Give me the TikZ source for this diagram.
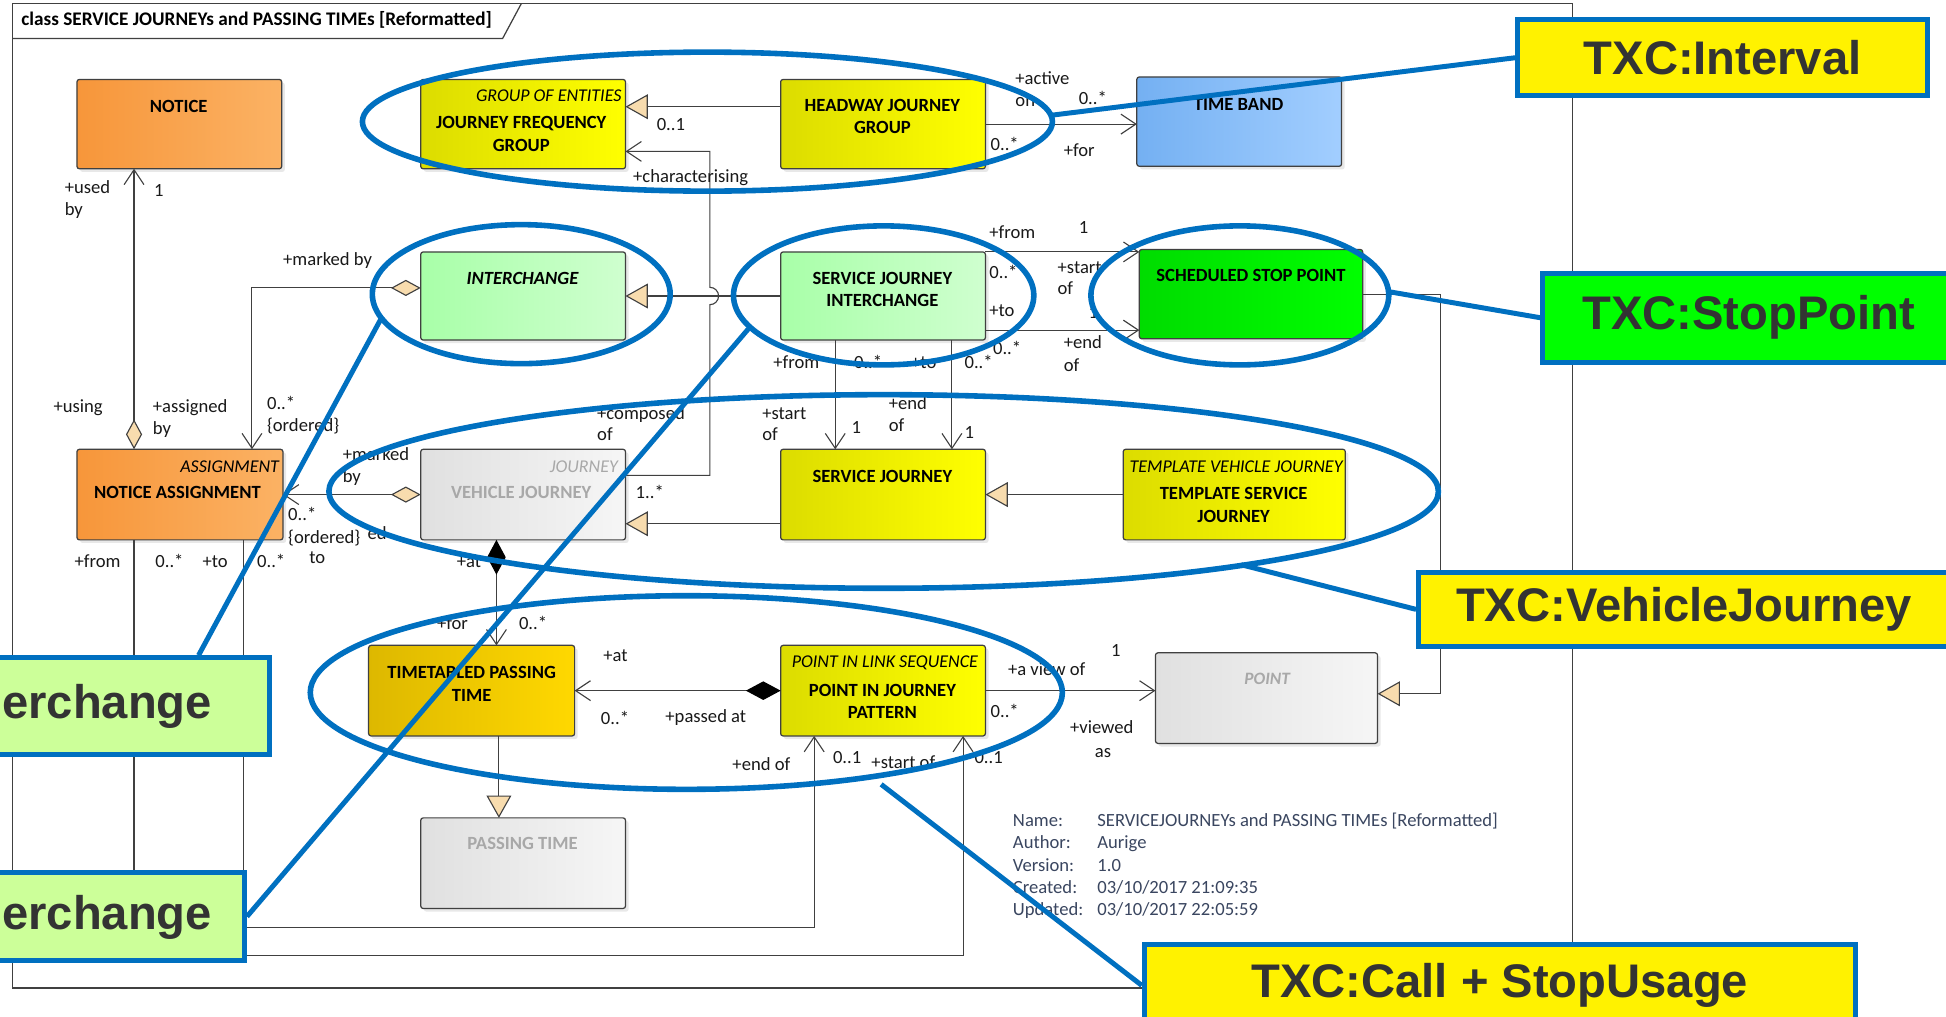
\documentclass[tikz,border=0pt]{standalone}
\usepackage{fontspec}
\setmainfont{Carlito}
\newfontfamily\calloutfont{Liberation Sans}
\usetikzlibrary{arrows.meta,shadows}

\definecolor{umlline}{HTML}{404040}
\definecolor{genfill}{HTML}{F8DCAE}
\definecolor{hlblue}{HTML}{0070C0}
\definecolor{greytxt}{HTML}{A8A8A8}
\definecolor{infotxt}{HTML}{3A4660}
\definecolor{calltxt}{HTML}{333333}
\definecolor{orangeL}{HTML}{F7963A}
\definecolor{orangeR}{HTML}{FBB264}
\definecolor{yellowL}{HTML}{DCDC00}
\definecolor{yellowR}{HTML}{FFFF00}
\definecolor{goldL}{HTML}{DDB800}
\definecolor{goldR}{HTML}{FFD800}
\definecolor{blueL}{HTML}{74B0F2}
\definecolor{blueR}{HTML}{A2CEFF}
\definecolor{mintL}{HTML}{A8FFA8}
\definecolor{mintR}{HTML}{CFFFCF}
\definecolor{greenL}{HTML}{00DC00}
\definecolor{greenR}{HTML}{00FF00}
\definecolor{greyL}{HTML}{E0E0E0}
\definecolor{greyR}{HTML}{F6F6F6}
\definecolor{calloutgreen}{HTML}{CCFF99}

\begin{document}
\begin{tikzpicture}[x=1pt,y=-1pt,
  umlbox/.style={draw=umlline, line width=1pt, rounded corners=2pt, anchor=north west,
    inner sep=0pt, outer sep=0pt,
    drop shadow={shadow xshift=2.5pt, shadow yshift=-2.5pt, opacity=0.18}},
  orangebox/.style={umlbox, left color=orangeL, right color=orangeR},
  yellowbox/.style={umlbox, left color=yellowL, right color=yellowR},
  goldbox/.style={umlbox, left color=goldL, right color=goldR},
  bluebox/.style={umlbox, left color=blueL, right color=blueR},
  mintbox/.style={umlbox, left color=mintL, right color=mintR},
  greenbox/.style={umlbox, left color=greenL, right color=greenR},
  greybox/.style={umlbox, left color=greyL, right color=greyR},
  nm/.style={font=\bfseries\fontsize{15}{18}\selectfont, align=center, inner sep=0pt},
  st/.style={font=\itshape\fontsize{14.5}{17}\selectfont, inner sep=0pt},
  lb/.style={font=\fontsize{15}{18}\selectfont, anchor=base west, inner sep=0pt, text=black!90},
  info/.style={font=\fontsize{15}{18}\selectfont, anchor=base west, inner sep=0pt, text=infotxt},
  conn/.style={draw=umlline, line width=0.9pt},
  assoc/.style={conn, -{Straight Barb[length=12pt,width=16pt]}},
  gen/.style={conn, -{Triangle[length=18pt,width=20pt,fill=genfill]}},
  aggarrow/.style={conn, {Diamond[length=24pt,width=13pt,fill=genfill]}-{Straight Barb[length=12pt,width=16pt]}},
  comparrow/.style={conn, {Diamond[length=28pt,width=15pt,color=black]}-{Straight Barb[length=12pt,width=16pt]}},
  ell/.style={draw=hlblue, line width=4.5pt},
  callline/.style={draw=hlblue, line width=4pt},
  callout/.style={draw=hlblue, line width=4pt, anchor=north west, inner sep=0pt,
    text=calltxt, font=\calloutfont\bfseries\fontsize{38}{40}\selectfont},
  calltext/.style={inner sep=0pt, text=calltxt, font=\calloutfont\bfseries\fontsize{38}{40}\selectfont},
  frame/.style={draw=umlline, line width=1pt}
]
\useasboundingbox (0,0) rectangle (1568,819);
\clip (0,0) rectangle (1568,819);
\fill[white] (0,0) rectangle (1568,819);

% diagram frame and its name tab
\draw[frame] (10,3) rectangle (1267,796);
\draw[frame] (10,31) -- (405,31) -- (420,3);
\node[anchor=west, inner sep=0pt, font=\bfseries\fontsize{15.5}{17}\selectfont] (title) at (17,16)
  {class SERVICE JOURNEYs and PASSING TIMEs [Reformatted]};

% classes
\node[orangebox, minimum width=165pt, minimum height=72pt] (notice) at (62,64) {};
\node[yellowbox, minimum width=165pt, minimum height=72pt] (jfg) at (339,64) {};
\node[yellowbox, minimum width=165pt, minimum height=72pt] (hjg) at (629,64) {};
\node[bluebox, minimum width=165pt, minimum height=72pt] (tb) at (916,62) {};
\node[mintbox, minimum width=165pt, minimum height=71pt] (inter) at (339,203) {};
\node[mintbox, minimum width=165pt, minimum height=71pt] (sji) at (629,203) {};
\node[greenbox, minimum width=180pt, minimum height=72pt] (ssp) at (918,201) {};
\node[orangebox, minimum width=166pt, minimum height=73pt] (na) at (62,362) {};
\node[greybox, minimum width=165pt, minimum height=73pt] (vj) at (339,362) {};
\node[yellowbox, minimum width=165pt, minimum height=73pt] (sj) at (629,362) {};
\node[yellowbox, minimum width=179pt, minimum height=73pt] (tsj) at (905,362) {};
\node[goldbox, minimum width=166pt, minimum height=73pt] (tpt) at (297,520) {};
\node[yellowbox, minimum width=165pt, minimum height=73pt] (pijp) at (629,520) {};
\node[greybox, minimum width=179pt, minimum height=73pt] (point) at (931,526) {};
\node[greybox, minimum width=165pt, minimum height=73pt] (pt) at (339,659) {};

% relationships
\draw[gen] ([yshift=14pt]hjg.west) -- ([yshift=14pt]jfg.east);
\draw[assoc] ([yshift=15.5pt]vj.east) -- (572,383) -- (572,245.5)
  arc[start angle=90, end angle=-90, radius=7] -- (572,122) -- ([yshift=-22pt]jfg.east);
\draw[assoc] (hjg.east) -- (tb.west |- hjg.east);
\draw[gen] (sji.west) -- (inter.east);
\draw[assoc] (sji.north east) -- (ssp.west |- sji.north east);
\coordinate (sjiTo) at ([yshift=-27.5pt]sji.east);
\draw[assoc] (sjiTo) -- (ssp.west |- sjiTo);
\draw[assoc] ([xshift=-38.5pt]sji.south) -- ([xshift=-38.5pt]sj.north);
\draw[assoc] ([xshift=55.5pt]sji.south) -- ([xshift=55.5pt]sj.north);
\draw[gen] ([yshift=-23.5pt]sj.west) -- ([yshift=-23.5pt]vj.east);
\draw[gen] (tsj.west) -- (sj.east);
\draw[gen] (ssp.east) -- (1161,237) -- (1161,559) -- ([yshift=3.5pt]point.east);
\draw[aggarrow] ([xshift=-37pt]na.north) -- ([xshift=-36.5pt]notice.south);
\draw[aggarrow] ([yshift=6.5pt]inter.west) -- (203,232) -- ([xshift=58pt]na.north);
\draw[aggarrow] (vj.west) -- (na.east);
\draw[assoc] ([xshift=-37pt]na.south) -- (108,770) -- (776,770) -- ([xshift=64.5pt]pijp.south);
\draw[assoc] ([xshift=51pt]na.south) -- (196,747) -- (656,747) -- ([xshift=-55.5pt]pijp.south);
\draw[comparrow] (pijp.west) -- (tpt.east);
\draw[assoc] (pijp.east) -- (point.west |- pijp.east);
\draw[gen] ([xshift=22pt]tpt.south) -- ([xshift=-19.5pt]pt.north);

% class names and stereotypes
\node[nm] (tNotice) at (144,86) {NOTICE};
\node[st, anchor=east] (sJfg) at (501,77) {GROUP OF ENTITIES};
\node[nm] (tJfg) at (420,108) {JOURNEY FREQUENCY\\GROUP};
\node[nm] (tHjg) at (711,94) {HEADWAY JOURNEY\\GROUP};
\node[nm] (tTb) at (998,84) {TIME BAND};
\node[nm, font=\bfseries\itshape\fontsize{15}{18}\selectfont] (tInter) at (421,224) {INTERCHANGE};
\node[nm] (tSji) at (711,233) {SERVICE JOURNEY\\INTERCHANGE};
\node[nm] (tSsp) at (1008,222) {SCHEDULED STOP POINT};
\node[st, anchor=east] (sNa) at (225,376) {ASSIGNMENT};
\node[nm] (tNa) at (143,397) {NOTICE ASSIGNMENT};
\node[st, anchor=east, text=greytxt] (sVj) at (498,376) {JOURNEY};
\node[nm, text=greytxt] (tVj) at (420,397) {VEHICLE JOURNEY};
\node[nm] (tSj) at (711,384) {SERVICE JOURNEY};
\node[st] (sTsj) at (996,376) {TEMPLATE VEHICLE JOURNEY};
\node[nm] (tTsj) at (994,407) {TEMPLATE SERVICE\\JOURNEY};
\node[nm] (tTpt) at (380,551) {TIMETABLED PASSING\\TIME};
\node[st] (sPijp) at (713,534) {POINT IN LINK SEQUENCE};
\node[nm] (tPijp) at (711,565) {POINT IN JOURNEY\\PATTERN};
\node[st, font=\bfseries\itshape\fontsize{14}{17}\selectfont, text=greytxt] (sPoint) at (1021,547) {POINT};
\node[nm, text=greytxt] (tPt) at (421,680) {PASSING TIME};

% role names and multiplicities
\node[lb] (m1) at (529,105) {0..1};
\node[lb] (r1) at (510,147) {+characterising};
\node[lb] (r2a) at (818,68) {+active};
\node[lb] (r2b) at (818,86) {on};
\node[lb] (m2) at (869,84) {0..*};
\node[lb] (m3) at (798,121) {0..*};
\node[lb] (r3) at (857,126) {+for};
\node[lb] (r4) at (797,192) {+from};
\node[lb] (m4) at (869,188) {1};
\node[lb] (m5) at (797,224) {0..*};
\node[lb] (r5a) at (852,220) {+start};
\node[lb] (r5b) at (852,237) {of};
\node[lb] (r6) at (797,255) {+to};
\node[lb] (m6) at (877,257) {1};
\node[lb] (m7) at (800,286) {0..*};
\node[lb] (r7a) at (857,281) {+end};
\node[lb] (r7b) at (857,299) {of};
\node[lb] (r8) at (623,297) {+from};
\node[lb] (m8) at (688,297) {0..*};
\node[lb] (r9) at (734,297) {+to};
\node[lb] (m9) at (777,297) {0..*};
\node[lb] (r10a) at (614,338) {+start};
\node[lb] (r10b) at (614,355) {of};
\node[lb] (m10) at (686,349) {1};
\node[lb] (r11a) at (716,330) {+end};
\node[lb] (r11b) at (716,348) {of};
\node[lb] (m11) at (777,353) {1};
\node[lb] (r12a) at (52,156) {+used};
\node[lb] (r12b) at (52,174) {by};
\node[lb] (m12) at (124,158) {1};
\node[lb] (r13) at (43,332) {+using};
\node[lb] (r14a) at (123,332) {+assigned};
\node[lb] (r14b) at (123,350) {by};
\node[lb] (m14a) at (215,330) {0..*};
\node[lb] (m14b) at (215,348) {\{ordered\}};
\node[lb] (r15) at (228,214) {+marked by};
\node[lb] (r16a) at (276,371) {+marked};
\node[lb] (r16b) at (276,389) {by};
\node[lb] (m16a) at (232,419) {0..*};
\node[lb] (m16b) at (232,438) {\{ordered\}};
\node[lb] (r17a) at (296,435) {ed};
\node[lb] (r17b) at (249,454) {to};
\node[lb] (r18) at (60,457) {+from};
\node[lb] (m18) at (125,457) {0..*};
\node[lb] (r19) at (163,457) {+to};
\node[lb] (m19) at (207,457) {0..*};
\node[lb] (r20a) at (481,338) {+composed};
\node[lb] (r20b) at (481,355) {of};
\node[lb] (m20) at (512,402) {1..*};
\node[lb] (r21) at (368,457) {+at};
\node[lb] (r22) at (352,507) {+for};
\node[lb] (m22) at (418,507) {0..*};
\node[lb] (r23) at (486,533) {+at};
\node[lb] (m23) at (484,584) {0..*};
\node[lb] (r24) at (536,582) {+passed at};
\node[lb] (r25) at (812,544) {+a view of};
\node[lb] (m25) at (895,529) {1};
\node[lb] (m26) at (798,578) {0..*};
\node[lb] (r26a) at (862,591) {+viewed};
\node[lb] (r26b) at (882,610) {as};
\node[lb] (r27) at (590,621) {+end of};
\node[lb] (m27) at (671,615) {0..1};
\node[lb] (r28) at (702,619) {+start of};
\node[lb] (m28) at (785,615) {0..1};

% composition drawn over its role label
\draw[comparrow] ([xshift=-21.5pt]vj.south) -- ([xshift=20pt]tpt.north);

% diagram properties
\node[info] (iName) at (816,666) {Name:};
\node[info] (iNameV) at (884,666) {SERVICEJOURNEYs and PASSING TIMEs [Reformatted]};
\node[info] (iAuth) at (816,684) {Author:};
\node[info] (iAuthV) at (884,684) {Aurige};
\node[info] (iVer) at (816,702) {Version:};
\node[info] (iVerV) at (884,702) {1.0};
\node[info] (iCre) at (816,720) {Created:};
\node[info] (iCreV) at (884,720) {03/10/2017 21:09:35};
\node[info] (iUpd) at (816,738) {Updated:};
\node[info] (iUpdV) at (884,738) {03/10/2017 22:05:59};

% highlight rings
\draw[ell] (570,98) ellipse [x radius=278, y radius=56];
\draw[ell] (420,237) ellipse [x radius=120, y radius=56];
\draw[ell] (712,238) ellipse [x radius=121, y radius=56];
\draw[ell] (999,238) ellipse [x radius=120, y radius=56];
\draw[ell] (712,396) ellipse [x radius=447, y radius=78];
\draw[ell] (553,558) ellipse [x radius=303, y radius=78];

\coordinate (p1) at (846,93);
\coordinate (p2) at (1119,235);
\coordinate (p3) at (1000,455);
\coordinate (p4) at (308,255);
\coordinate (p5) at (603,265);
\coordinate (p6) at (710,632);

% callouts
\node[callout, fill=yellow, minimum width=330pt, minimum height=61pt] (cInterval) at (1221,14) {TXC:Interval};
\node[callout, fill=green, minimum width=332pt, minimum height=72pt] (cStop) at (1241,218) {TXC:StopPoint};
\node[callout, fill=yellow, minimum width=428pt, minimum height=60pt] (cVj) at (1141,459) {TXC:VehicleJourney};
\node[callout, fill=calloutgreen, minimum width=245pt, minimum height=78pt] (cInterA) at (-30,528) {};
\node[callout, fill=calloutgreen, minimum width=225pt, minimum height=71pt] (cInterB) at (-30,701) {};
\node[callout, fill=yellow, minimum width=573pt, minimum height=66pt] (cCall) at (920,759) {TXC:Call + StopUsage};
\node[calltext, anchor=east] (tInterA) at (171,569) {erchange};
\node[calltext, anchor=east] (tInterB) at (171,739) {erchange};

\draw[callline] (cInterval.west) -- (p1);
\draw[callline] (cStop.west) -- (p2);
\draw[callline] (cVj.west) -- (p3);
\draw[callline] ([xshift=65.5pt]cInterA.north) -- (p4);
\draw[callline] (cInterB.east) -- (p5);
\draw[callline] (cCall.west) -- (p6);
\end{tikzpicture}
\end{document}
